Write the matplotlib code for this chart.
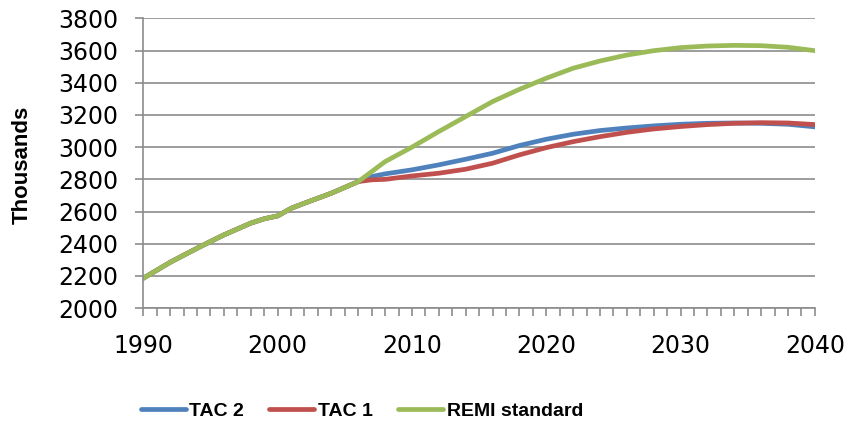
"""Population projection: TAC scenarios vs REMI standard."""
import matplotlib
matplotlib.use("Agg")
import matplotlib.pyplot as plt
from matplotlib.ticker import MultipleLocator

years = [1990, 1992, 1994, 1995, 1996, 1998, 1999, 2000, 2001, 2002, 2004, 2006,
         2007, 2008, 2010, 2012, 2014, 2016, 2018, 2020, 2022, 2024, 2026, 2028,
         2030, 2032, 2034, 2036, 2038, 2040]
remi = [2186, 2285, 2372, 2414, 2455, 2528, 2555, 2573, 2620, 2652, 2714, 2786,
        2848, 2910, 3000, 3097, 3190, 3283, 3359, 3428, 3490, 3535, 3572, 3599,
        3618, 3628, 3632, 3630, 3620, 3599]
tac2 = [2186, 2285, 2372, 2414, 2455, 2528, 2555, 2573, 2620, 2652, 2714, 2786,
        2817, 2834, 2859, 2890, 2925, 2962, 3010, 3049, 3080, 3103, 3119, 3132,
        3142, 3148, 3150, 3148, 3142, 3126]
tac1 = [2186, 2285, 2372, 2414, 2455, 2528, 2555, 2573, 2620, 2652, 2714, 2786,
        2797, 2800, 2821, 2838, 2863, 2900, 2952, 2997, 3034, 3065, 3092, 3113,
        3128, 3140, 3148, 3152, 3150, 3140]

GRID = "#8c8c8c"
FONT = ["Liberation Sans", "DejaVu Sans"]

fig = plt.figure(figsize=(8.48, 4.21), dpi=100)
ax = fig.add_axes([0.169, 0.268, 0.792, 0.6885])

ax.plot(years, tac2, color="#4F81BD", lw=3.4, label="TAC 2", solid_capstyle="round")
ax.plot(years, tac1, color="#C0504D", lw=3.4, label="TAC 1", solid_capstyle="round")
ax.plot(years, remi, color="#9BBB59", lw=3.4, label="REMI standard", solid_capstyle="round")

ax.set_xlim(1990, 2040)
ax.set_ylim(2000, 3800)
ax.xaxis.set_major_locator(MultipleLocator(10))
ax.xaxis.set_minor_locator(MultipleLocator(1))
ax.yaxis.set_major_locator(MultipleLocator(200))
ax.grid(True, axis="y", color=GRID, lw=1.2)
ax.set_axisbelow(True)
for s in ("top", "right"):
    ax.spines[s].set_visible(False)
for s in ("left", "bottom"):
    ax.spines[s].set_color(GRID)
    ax.spines[s].set_linewidth(1.2)
ax.tick_params(axis="x", which="both", direction="out", length=5.5, color=GRID, width=1.2)
ax.tick_params(axis="x", which="major", pad=13, labelsize=17)
ax.tick_params(axis="y", direction="out", length=6, color=GRID, width=1.2, pad=12, labelsize=17)

fig.text(22 / 848, 1 - 164.5 / 421, "Thousands", rotation=90, ha="center", va="center",
         family=FONT, fontweight="bold", fontsize=16)

fig.legend(loc="center", bbox_to_anchor=(362 / 848, 1 - 411 / 421), ncol=3, frameon=False,
           prop={"family": FONT, "weight": "bold", "size": 14},
           handlelength=2.3, handletextpad=0.2, columnspacing=1.3)

fig.savefig("out.png", dpi=100)
